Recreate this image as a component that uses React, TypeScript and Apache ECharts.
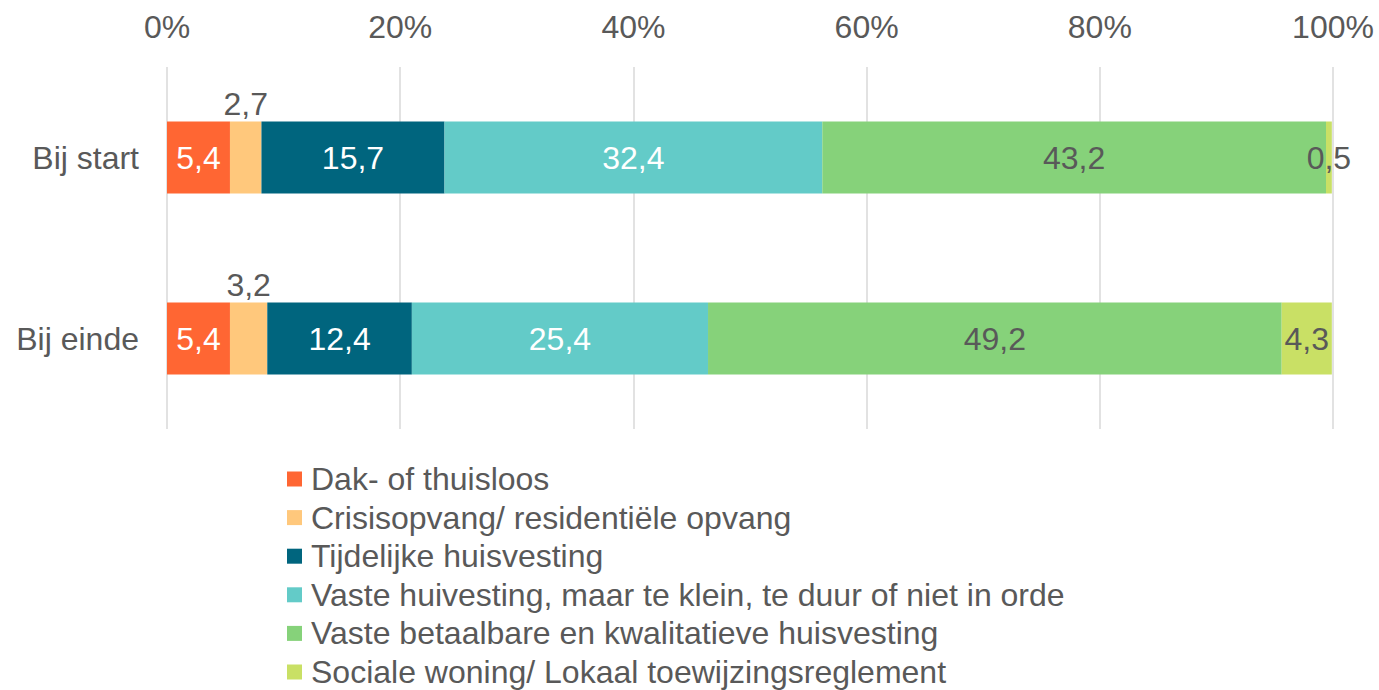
import React, { useEffect, useRef } from "react";
import * as echarts from "echarts";

const categories = ["Bij start", "Bij einde"];
const seriesNames = [
  "Dak- of thuisloos",
  "Crisisopvang/ residentiële opvang",
  "Tijdelijke huisvesting",
  "Vaste huivesting, maar te klein, te duur of niet in orde",
  "Vaste betaalbare en kwalitatieve huisvesting",
  "Sociale woning/ Lokaal toewijzingsreglement",
];
const dakloos = [5.4, 5.4];
const crisis = [2.7, 3.2];
const tijdelijk = [15.7, 12.4];
const vasteSlecht = [32.4, 25.4];
const vasteGoed = [43.2, 49.2];
const sociaal = [0.5, 4.3];
const xTicks = [0, 20, 40, 60, 80, 100];

const colors = ["#FF6633", "#FFC87C", "#00657E", "#63CBC8", "#86D27A", "#C9E065"];
const labelColors = ["#FFFFFF", "#595959", "#FFFFFF", "#FFFFFF", "#595959", "#595959"];
const labelPositions = ["inside", "top", "inside", "inside", "inside", "inside"];

export default function App() {
  const ref = useRef<HTMLDivElement>(null);
  useEffect(() => {
    if (!ref.current) return;
    const chart = echarts.init(ref.current, null, { renderer: "svg" });
    const values = [dakloos, crisis, tijdelijk, vasteSlecht, vasteGoed, sociaal];
    const font = "'Liberation Sans', Arial, sans-serif";
    chart.setOption({
      animation: false,
      textStyle: { fontFamily: font },
      grid: { left: 167, right: 46, top: 67, bottom: 261, containLabel: false },
      xAxis: {
        type: "value",
        position: "top",
        min: xTicks[0],
        max: xTicks[xTicks.length - 1],
        interval: 20,
        axisLine: { show: false },
        axisTick: { show: false },
        axisLabel: {
          formatter: (v: number) => v + "%",
          fontSize: 32,
          color: "#595959",
          margin: 24,
          fontFamily: font,
        },
        splitLine: { show: true, lineStyle: { color: "#D9D9D9", width: 1.5 } },
      },
      yAxis: {
        type: "category",
        data: categories,
        inverse: true,
        axisLine: { show: false },
        axisTick: { show: false },
        axisLabel: { fontSize: 32, color: "#595959", margin: 28, fontFamily: font },
      },
      legend: {
        orient: "vertical",
        left: 287,
        top: 463,
        height: 260,
        padding: 0,
        icon: "rect",
        itemWidth: 15,
        itemHeight: 15,
        itemGap: 6.6,
        data: seriesNames,
        textStyle: { fontSize: 32, color: "#595959", padding: [0, 0, 0, 4], fontFamily: font },
      },
      series: seriesNames.map((name, i) => ({
        name,
        type: "bar",
        stack: "total",
        barWidth: 72,
        data: values[i],
        itemStyle: { color: colors[i] },
        label: {
          show: true,
          position: labelPositions[i],
          distance: 2,
          formatter: (p: any) => String(p.value).replace(".", ","),
          color: labelColors[i],
          fontSize: 32,
          fontFamily: font,
        },
      })),
    });
    return () => chart.dispose();
  }, []);
  return (
    <div
      ref={ref}
      style={{ position: "absolute", left: 0, top: 0, width: 1379, height: 690 }}
    />
  );
}
